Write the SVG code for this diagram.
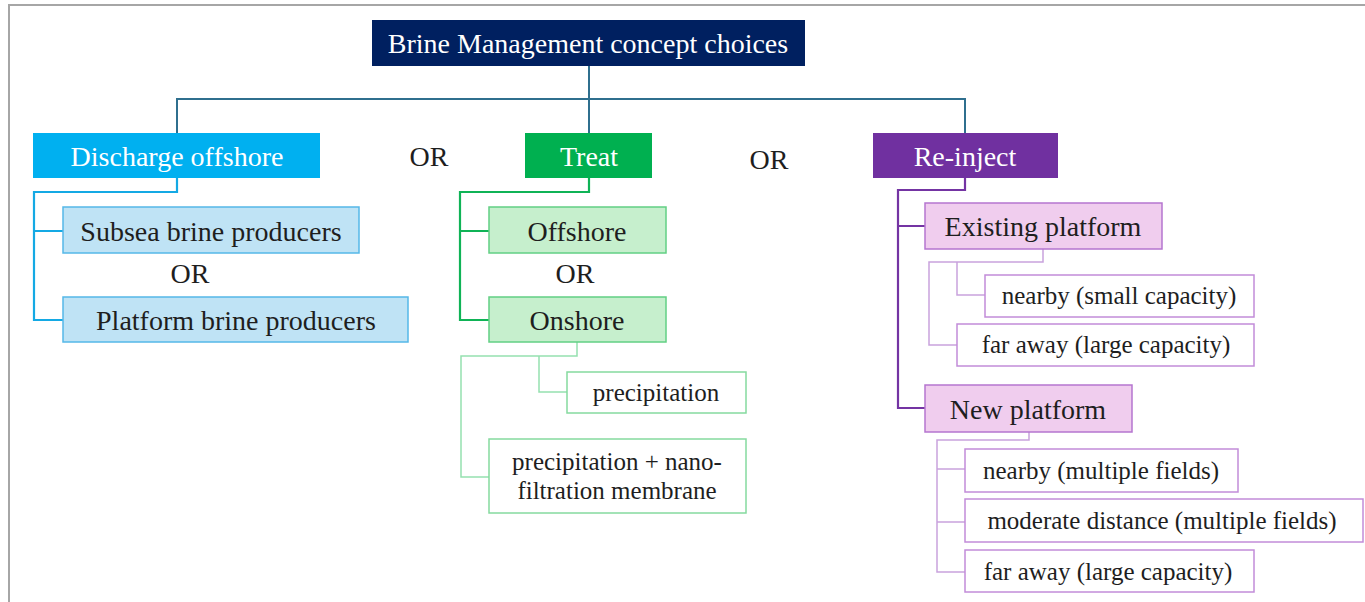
<svg xmlns="http://www.w3.org/2000/svg" width="1365" height="602" viewBox="0 0 1365 602">
<style>
text{font-family:'Liberation Serif',Tinos,'DejaVu Serif',serif;text-anchor:middle}
.t1{font-size:28px;fill:#ffffff}
.t2{font-size:28px;fill:#1e1e1e}
.t3{font-size:25px;fill:#1e1e1e}
.or{font-size:28px;fill:#1e1e1e}
.frame{fill:none;stroke:#a6a6a6;stroke-width:2}
.cm{fill:none;stroke:#2f6f8e;stroke-width:2}
.cb{fill:none;stroke:#14a9e4;stroke-width:2.2}
.cg{fill:none;stroke:#0fb356;stroke-width:2.2}
.cgl{fill:none;stroke:#95e1b0;stroke-width:1.5}
.cp{fill:none;stroke:#7434a3;stroke-width:2.2}
.cpl{fill:none;stroke:#c9a2dd;stroke-width:1.5}
.bb{fill:#bfe3f5;stroke:#55b8e8;stroke-width:1.5}
.bg{fill:#c6efcd;stroke:#62d084;stroke-width:1.5}
.bgl{fill:#ffffff;stroke:#85da9f;stroke-width:1.5}
.bp{fill:#f0cdee;stroke:#b575cf;stroke-width:1.5}
.bpl{fill:#ffffff;stroke:#c28cd9;stroke-width:1.5}
</style>
<path class="frame" d="M9,602 V5 H1365"/>
<g id="connectors">
<path class="cm" d="M589,66 V133 M177,133 V99 H965 V133"/>
<path class="cb" d="M177,178 V192 H34 V320 H63 M34,231 H63"/>
<path class="cg" d="M589,178 V192 H460 V320 H489 M460,231 H489"/>
<path class="cgl" d="M577,342 V356 H461 V477 H489 M539,356 V392 H567"/>
<path class="cp" d="M965,178 V190 H898 V408 H925 M898,226 H925"/>
<path class="cpl" d="M1043,249 V262 H929 V345 H957 M957,262 V295 H985"/>
<path class="cpl" d="M1029,432 V440 H937 V572 H965 M937,469 H965 M937,522 H965"/>
</g>
<g id="title"><rect x="372" y="20" width="433" height="46" fill="#002060"/><text class="t1" x="588" y="53">Brine Management concept choices</text></g>
<g id="discharge"><rect x="33" y="133" width="287" height="45" fill="#00b0f0"/><text class="t1" x="177" y="166">Discharge offshore</text></g>
<g id="treat"><rect x="525" y="133" width="127" height="45" fill="#00b050"/><text class="t1" x="589" y="166">Treat</text></g>
<g id="reinject"><rect x="873" y="133" width="185" height="45" fill="#7030a0"/><text class="t1" x="965" y="166">Re-inject</text></g>
<g id="or1"><text class="or" x="429" y="166">OR</text></g>
<g id="or2"><text class="or" x="769" y="169">OR</text></g>
<g id="subsea"><rect class="bb" x="63" y="207" width="296" height="46"/><text class="t2" x="211" y="241">Subsea brine producers</text></g>
<g id="or3"><text class="or" x="190" y="283">OR</text></g>
<g id="platform"><rect class="bb" x="63" y="297" width="345" height="45"/><text class="t2" x="236" y="330">Platform brine producers</text></g>
<g id="offshore"><rect class="bg" x="489" y="207" width="177" height="46"/><text class="t2" x="577" y="241">Offshore</text></g>
<g id="or4"><text class="or" x="575" y="283">OR</text></g>
<g id="onshore"><rect class="bg" x="489" y="297" width="177" height="45"/><text class="t2" x="577" y="330">Onshore</text></g>
<g id="precip"><rect class="bgl" x="567" y="372" width="179" height="41"/><text class="t3" x="656" y="401">precipitation</text></g>
<g id="precipnano"><rect class="bgl" x="489" y="439" width="257" height="74"/><text class="t3" x="617" y="470">precipitation + nano-</text><text class="t3" x="617" y="499">filtration membrane</text></g>
<g id="existing"><rect class="bp" x="925" y="203" width="237" height="46"/><text class="t2" x="1043" y="236">Existing platform</text></g>
<g id="ex-nearby"><rect class="bpl" x="985" y="275" width="269" height="42"/><text class="t3" x="1119" y="304">nearby (small capacity)</text></g>
<g id="ex-faraway"><rect class="bpl" x="957" y="324" width="297" height="42"/><text class="t3" x="1106" y="353">far away (large capacity)</text></g>
<g id="newplatform"><rect class="bp" x="925" y="385" width="207" height="47"/><text class="t2" x="1028" y="419">New platform</text></g>
<g id="new-nearby"><rect class="bpl" x="965" y="449" width="273" height="43"/><text class="t3" x="1101" y="479">nearby (multiple fields)</text></g>
<g id="new-moderate"><rect class="bpl" x="965" y="499" width="398" height="43"/><text class="t3" x="1162" y="529">moderate distance (multiple fields)</text></g>
<g id="new-faraway"><rect class="bpl" x="965" y="550" width="289" height="42"/><text class="t3" x="1108" y="580">far away (large capacity)</text></g>
</svg>
